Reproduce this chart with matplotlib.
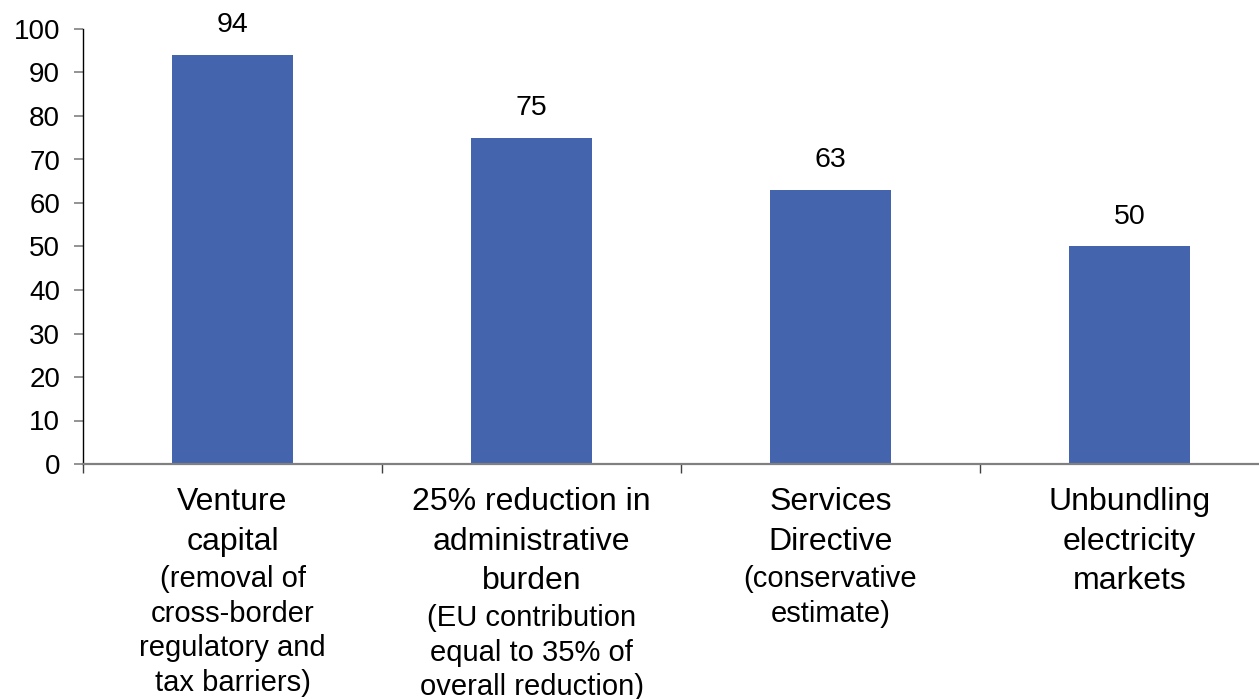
import matplotlib

matplotlib.use("Agg")
import matplotlib.pyplot as plt
from matplotlib.ticker import FixedLocator, MultipleLocator

plt.rcParams["font.family"] = ["Liberation Sans", "DejaVu Sans"]

# headline titles and smaller explanatory notes for each measure
titles = [
    "Venture\ncapital",
    "25% reduction in\nadministrative\nburden",
    "Services\nDirective",
    "Unbundling\nelectricity\nmarkets",
]
notes = [
    "(removal of\ncross-border\nregulatory and\ntax barriers)",
    "(EU contribution\nequal to 35% of\noverall reduction)",
    "(conservative\nestimate)",
    "",
]
values = [94, 75, 63, 50]

BAR_COLOR = "#4464AD"
AXIS_GREY = "#808080"
DPI = 100

fig = plt.figure(figsize=(12.59, 6.99), dpi=DPI)
ax = fig.add_axes([83 / 1259, 1 - 464 / 699, 1 - 83 / 1259, 435 / 699])

x = list(range(len(values)))
ax.bar(x, values, width=0.405, color=BAR_COLOR, zorder=2)

ax.set_xlim(-0.5, -0.5 + (1259 - 83) / 299)
ax.set_ylim(0, 100)
ax.yaxis.set_major_locator(MultipleLocator(10))
ax.tick_params(axis="y", labelsize=20, length=6.5, width=1.2,
               color=AXIS_GREY, pad=10)

# category boundaries carry the ticks, labels are drawn separately
ax.xaxis.set_major_locator(FixedLocator([i - 0.5 for i in range(len(values) + 1)]))
ax.set_xticklabels([])
ax.tick_params(axis="x", length=6.5, width=1.0, color="#404040")

for side in ("top", "right"):
    ax.spines[side].set_visible(False)
ax.spines["left"].set_color("black")
ax.spines["left"].set_linewidth(1.0)
ax.spines["bottom"].set_color(AXIS_GREY)
ax.spines["bottom"].set_linewidth(1.6)

for xi, v in zip(x, values):
    ax.annotate(
        f"{v}",
        xy=(xi, v),
        xytext=(0, 16.5),
        textcoords="offset points",
        ha="center",
        va="baseline",
        fontsize=20.5,
    )

TITLE_SIZE = 23
NOTE_SIZE = 21
TITLE_LINE_PX = 39
top_px = 23

for xi, title, note in zip(x, titles, notes):
    ax.annotate(
        title,
        xy=(xi, 0),
        xycoords=("data", "axes fraction"),
        xytext=(0, -top_px * 72 / DPI),
        textcoords="offset points",
        ha="center",
        va="top",
        fontsize=TITLE_SIZE,
        linespacing=1.42,
    )
    if note:
        n_lines = title.count("\n") + 1
        ax.annotate(
            note,
            xy=(xi, 0),
            xycoords=("data", "axes fraction"),
            xytext=(0, -(top_px + n_lines * TITLE_LINE_PX) * 72 / DPI),
            textcoords="offset points",
            ha="center",
            va="top",
            fontsize=NOTE_SIZE,
            linespacing=1.3,
        )

fig.savefig("out.png", dpi=DPI)
